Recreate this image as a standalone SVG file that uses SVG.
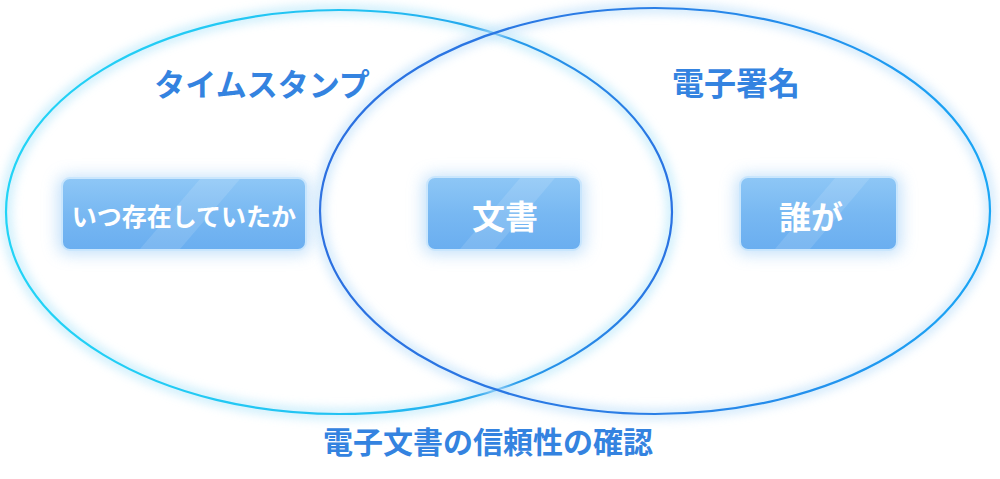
<svg xmlns="http://www.w3.org/2000/svg" width="1000" height="479" viewBox="0 0 1000 479">
  <style>
    .lbl { font-family: "Noto Sans CJK JP", "Noto Sans", sans-serif; font-weight: 700; fill: #3483e0; text-anchor: middle; dominant-baseline: central; }
    .btxt { font-family: "Noto Sans CJK JP", "Noto Sans", sans-serif; font-weight: 700; fill: #ffffff; text-anchor: middle; dominant-baseline: central; }
    .box { fill: url(#boxFill); stroke: #c9e6fd; stroke-width: 2; }
    .boxGlow { fill: #a9d3f8; filter: url(#blur8); opacity: 0.7; }
    .sheen { fill: #ffffff; opacity: 0.12; }
  </style>
  <defs>
    <linearGradient id="gl" x1="0" y1="0" x2="1" y2="0">
      <stop offset="0" stop-color="#22d4f6"/>
      <stop offset="0.55" stop-color="#22c0f2"/>
      <stop offset="1" stop-color="#2a72e2"/>
    </linearGradient>
    <linearGradient id="gr" x1="0" y1="0" x2="1" y2="0">
      <stop offset="0" stop-color="#2b6fe0"/>
      <stop offset="0.5" stop-color="#2a7fe6"/>
      <stop offset="1" stop-color="#1aa6f5"/>
    </linearGradient>
    <linearGradient id="boxFill" x1="0" y1="0" x2="0" y2="1">
      <stop offset="0" stop-color="#8ec7f6"/>
      <stop offset="0.5" stop-color="#78b8f2"/>
      <stop offset="1" stop-color="#6aaef0"/>
    </linearGradient>
    <filter id="blur8" x="-30%" y="-30%" width="160%" height="160%">
      <feGaussianBlur stdDeviation="8"/>
    </filter>
    <filter id="blur5" x="-10%" y="-10%" width="120%" height="120%">
      <feGaussianBlur stdDeviation="5"/>
    </filter>
  </defs>
  <rect width="1000" height="479" fill="#ffffff"/>

  <g id="connectors">
    <g id="ellipse-timestamp">
      <ellipse cx="339" cy="212" rx="333" ry="202" fill="none" stroke="#bfeafb" stroke-width="12" filter="url(#blur5)" opacity="0.7"/>
      <ellipse cx="339" cy="212" rx="333" ry="202" fill="none" stroke="url(#gl)" stroke-width="2.2"/>
    </g>
    <g id="ellipse-signature">
      <ellipse cx="655" cy="211" rx="335" ry="203" fill="none" stroke="#c6e4fb" stroke-width="12" filter="url(#blur5)" opacity="0.7"/>
      <ellipse cx="655" cy="211" rx="335" ry="203" fill="none" stroke="url(#gr)" stroke-width="2.2"/>
    </g>
  </g>

  <g id="label-timestamp"><text class="lbl" x="262" y="82" font-size="31">タイムスタンプ</text></g>
  <g id="label-signature"><text class="lbl" x="736" y="81" font-size="32">電子署名</text></g>
  <g id="label-bottom"><text class="lbl" x="488" y="440" font-size="30">電子文書の信頼性の確認</text></g>

  <g id="node-when">
    <rect class="boxGlow" x="58" y="176" width="252" height="78" rx="10"/>
    <rect class="box" x="62" y="178" width="244" height="72" rx="8"/>
    <path class="sheen" d="M200 179 L240 179 L180 249 L140 249 Z"/>
    <text class="btxt" x="184" y="215" font-size="25">いつ存在していたか</text>
  </g>
  <g id="node-doc">
    <rect class="boxGlow" x="423" y="175" width="162" height="79" rx="10"/>
    <rect class="box" x="427" y="177" width="154" height="73" rx="8"/>
    <path class="sheen" d="M520 178 L555 178 L495 249 L460 249 Z"/>
    <text class="btxt" x="505" y="215" font-size="33">文書</text>
  </g>
  <g id="node-who">
    <rect class="boxGlow" x="736" y="175" width="165" height="79" rx="10"/>
    <rect class="box" x="740" y="177" width="157" height="73" rx="8"/>
    <path class="sheen" d="M835 178 L870 178 L810 249 L775 249 Z"/>
    <text class="btxt" x="811" y="215" font-size="32">誰が</text>
  </g>
</svg>
